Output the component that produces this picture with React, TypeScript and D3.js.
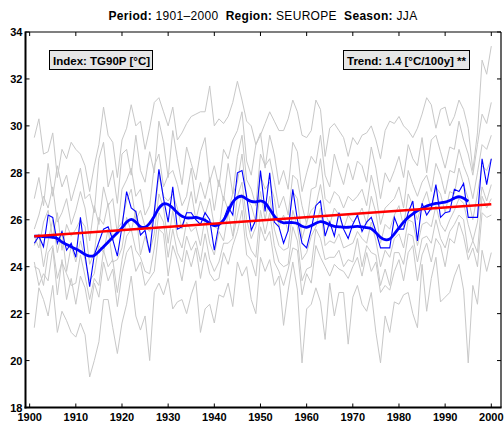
import React from 'react';
import * as d3 from 'd3';

// ---------- data ----------
const years: number[] = Array.from({ length: 100 }, (_, i) => 1901 + i);
const smoothYears: number[] = Array.from({ length: 95 }, (_, i) => 1901 + i);

const regionMean = [
  25.0, 25.3, 24.85, 26.2, 26.1, 25.0, 25.5, 24.7, 25.0, 24.4,
  26.1, 24.5, 23.15, 24.5, 25.05, 25.6, 25.7, 25.15, 24.45, 25.7,
  27.2, 26.5, 26.35, 25.35, 25.55, 24.6, 26.35, 28.15, 26.9, 25.9,
  27.4, 25.6, 25.7, 26.3, 26.3, 26.0, 25.8, 26.3, 26.0, 24.7,
  25.8, 26.0, 26.55, 26.2, 28.0, 28.1, 27.0, 25.55, 26.0, 28.1,
  26.35, 28.0, 25.9, 25.7, 25.0, 25.55, 27.3, 26.0, 25.0, 24.8,
  25.6, 26.6, 26.8, 25.3, 25.9, 25.3, 26.3, 25.6, 25.2, 25.8,
  26.2, 25.5, 25.9, 26.1, 25.5, 24.8, 24.8, 24.8, 26.1, 25.6,
  25.6, 26.3, 26.8, 25.1, 26.7, 26.2, 26.5, 27.5, 26.1, 26.3,
  26.35, 27.3, 27.2, 27.55, 26.1, 26.1, 26.1, 28.6, 27.5, 28.6,
];

const smoothMean = [
  25.30, 25.30, 25.28, 25.27, 25.25, 25.20, 25.05, 24.95, 24.85, 24.75,
  24.65, 24.52, 24.45, 24.48, 24.65, 24.85, 25.05, 25.25, 25.45, 25.65,
  25.90, 26.02, 25.90, 25.70, 25.68, 25.85, 26.15, 26.50, 26.68, 26.65,
  26.50, 26.30, 26.15, 26.08, 26.08, 26.10, 26.05, 25.98, 25.85, 25.75,
  25.80, 25.98, 26.35, 26.75, 26.95, 27.00, 26.88, 26.78, 26.76, 26.80,
  26.72, 26.45, 26.15, 25.95, 25.87, 25.88, 25.88, 25.84, 25.72, 25.68,
  25.75, 25.85, 25.92, 25.88, 25.78, 25.72, 25.70, 25.68, 25.68, 25.70,
  25.72, 25.70, 25.66, 25.62, 25.45, 25.25, 25.15, 25.18, 25.40, 25.65,
  25.90, 26.10, 26.25, 26.38, 26.48, 26.58, 26.65, 26.70, 26.72, 26.75,
  26.82, 26.92, 26.98, 26.92, 26.78,
];

const trendYears = [1901, 2000];
const trendValues = [25.3, 26.66];

const station1 = [
  29.5, 30.3, 28.8, 28.9, 29.7, 27.8, 29.0, 28.6, 29.3, 29.0,
  28.8, 28.3, 27.2, 28.3, 29.2, 30.8, 29.6, 29.3, 27.8, 29.4,
  29.9, 30.9, 30.0, 30.2, 29.0, 29.9, 31.0, 31.2, 30.6, 30.0,
  30.8, 29.4, 29.7, 30.1, 30.4, 30.5, 30.6, 30.6, 31.7, 30.0,
  30.3, 30.1, 30.4, 31.0, 31.9, 31.1, 30.2, 30.0, 29.2, 29.6,
  30.1, 30.6, 30.2, 29.8, 29.8, 30.3, 31.1, 30.6, 29.6, 29.5,
  29.8, 31.1, 30.7, 28.7, 29.9, 30.1, 29.8, 29.5, 28.7, 29.5,
  29.2, 29.6, 29.7, 30.0, 29.4, 28.6, 29.8, 30.2, 30.1, 30.4,
  30.0, 29.8, 29.5, 29.9, 30.5, 31.2, 30.9, 29.9, 30.7, 30.8,
  30.0, 30.4, 31.1, 30.7, 29.9, 28.1, 29.7, 32.8, 32.2, 33.4,
];
const station2 = [
  26.9, 27.8, 26.6, 28.4, 27.0, 28.3, 27.4, 27.9, 26.8, 27.5,
  28.2, 26.9, 27.1, 26.3, 28.6, 29.3, 27.4, 28.1, 26.7, 28.8,
  29.0, 27.9, 29.6, 28.1, 27.6, 28.9, 28.0, 30.2, 29.3, 27.8,
  29.8, 28.6, 27.5, 29.1, 28.4, 27.7, 28.9, 29.5, 27.6, 28.3,
  27.4, 29.0, 28.6, 29.4, 29.8, 30.6, 28.5, 27.9, 29.2, 29.7,
  28.2, 29.6, 28.8, 27.5, 28.1, 27.3, 29.3, 28.9, 27.2, 28.0,
  28.7, 28.4, 29.6, 27.9, 27.4, 28.8, 28.1, 27.5, 28.4, 27.7,
  28.5, 28.3, 27.6, 29.1, 28.2, 26.9, 28.0, 27.6, 28.1, 28.7,
  27.8, 29.2, 28.6, 28.3, 29.5, 28.0, 29.4, 29.6, 28.9, 28.2,
  29.1, 29.0, 30.2, 29.4, 28.8, 27.9, 29.2, 30.5, 30.1, 31.0,
];
const station3 = [
  25.6, 26.2, 27.0, 26.5, 27.4, 25.9, 26.3, 26.9, 25.8, 26.4,
  27.2, 26.5, 25.1, 26.6, 25.8, 27.4, 26.6, 26.9, 25.4, 27.3,
  27.7, 28.2, 27.0, 27.3, 26.2, 26.6, 28.3, 28.8, 27.4, 27.9,
  28.1, 27.5, 26.6, 27.0, 28.2, 26.7, 27.6, 26.9, 27.8, 26.4,
  27.7, 26.8, 28.4, 27.1, 28.7, 29.6, 27.7, 27.3, 26.6, 28.8,
  28.3, 28.6, 27.6, 26.5, 27.0, 26.2, 27.9, 27.7, 26.6, 25.8,
  27.3, 27.4, 28.6, 26.9, 26.7, 27.2, 27.0, 26.5, 27.0, 26.8,
  27.0, 27.3, 26.6, 27.9, 27.1, 25.8, 26.5, 26.7, 26.9, 27.4,
  26.5, 28.1, 27.5, 27.0, 27.6, 27.9, 27.2, 28.4, 27.9, 27.1,
  28.1, 28.0, 29.0, 28.3, 27.8, 26.9, 28.0, 29.2, 29.0, 29.6,
];
const station4 = [
  25.3, 24.8, 25.9, 26.4, 25.2, 26.3, 24.7, 25.8, 25.3, 25.6,
  26.0, 25.7, 24.1, 24.6, 26.1, 25.8, 26.7, 25.1, 25.6, 25.9,
  26.8, 27.3, 26.0, 26.4, 25.7, 25.5, 26.2, 27.9, 27.0, 26.8,
  27.1, 26.5, 25.6, 26.3, 27.2, 26.0, 26.8, 26.2, 26.9, 25.7,
  25.6, 27.0, 26.4, 27.1, 27.6, 28.8, 26.9, 26.6, 25.9, 27.9,
  27.3, 27.6, 26.9, 25.7, 26.2, 25.5, 27.2, 26.9, 25.2, 25.9,
  26.4, 26.6, 27.5, 26.3, 25.8, 26.5, 26.2, 25.6, 26.2, 25.9,
  26.1, 26.5, 25.8, 27.0, 26.3, 25.0, 25.8, 25.6, 26.2, 26.6,
  25.7, 27.1, 26.6, 26.0, 26.7, 27.2, 26.4, 27.4, 27.1, 26.3,
  27.2, 27.1, 28.2, 27.5, 26.9, 26.0, 27.1, 28.3, 28.1, 28.6,
];
const station5 = [
  24.9, 25.4, 24.0, 25.1, 26.0, 24.6, 25.5, 23.8, 24.9, 24.2,
  25.1, 24.3, 23.4, 23.7, 24.9, 24.6, 25.6, 24.2, 24.3, 24.8,
  26.1, 25.5, 26.4, 24.5, 25.3, 24.6, 25.4, 27.1, 26.5, 25.0,
  26.4, 25.3, 24.8, 25.9, 25.5, 25.7, 24.9, 26.1, 25.0, 24.5,
  25.5, 25.1, 26.3, 25.3, 27.0, 27.6, 26.0, 25.2, 25.7, 27.2,
  26.0, 27.0, 25.6, 24.9, 24.7, 24.8, 26.4, 25.7, 24.3, 24.6,
  25.3, 25.7, 26.5, 24.9, 25.1, 25.0, 25.4, 24.8, 24.9, 25.0,
  25.5, 25.2, 25.0, 25.9, 25.1, 24.0, 24.7, 24.4, 25.2, 25.4,
  24.8, 26.0, 25.9, 24.9, 25.8, 25.9, 25.7, 26.6, 25.8, 25.5,
  26.0, 26.4, 26.9, 26.7, 25.8, 25.1, 25.9, 27.4, 26.8, 27.5,
];
const station6 = [
  24.0, 23.9, 23.2, 24.6, 24.9, 23.5, 24.2, 23.7, 23.2, 23.3,
  24.5, 23.6, 22.6, 23.5, 23.2, 24.7, 24.0, 24.3, 22.9, 24.3,
  25.3, 25.6, 24.7, 24.4, 23.8, 23.7, 24.8, 26.3, 25.9, 24.4,
  25.6, 24.6, 24.2, 25.3, 24.7, 25.1, 24.2, 25.4, 24.3, 23.8,
  24.2, 25.0, 25.0, 25.2, 26.2, 27.1, 25.3, 24.7, 24.4, 26.4,
  25.4, 26.3, 24.9, 24.2, 24.0, 24.1, 25.7, 25.1, 23.4, 23.9,
  24.0, 25.6, 25.2, 24.3, 24.4, 24.4, 24.7, 24.0, 24.3, 24.2,
  25.2, 24.0, 24.9, 24.6, 24.5, 23.2, 23.9, 23.2, 24.6, 24.6,
  24.1, 25.4, 25.3, 24.2, 25.2, 25.3, 25.0, 26.0, 25.2, 24.8,
  25.5, 25.8, 26.2, 26.0, 24.6, 25.1, 24.6, 27.0, 26.5, 26.9,
];
const station7 = [
  24.2, 23.2, 23.7, 23.4, 24.8, 22.8, 24.3, 22.6, 23.5, 22.4,
  23.6, 23.1, 22.0, 23.3, 22.7, 24.2, 23.4, 23.9, 22.3, 23.7,
  24.6, 24.9, 23.8, 24.2, 23.2, 23.5, 23.8, 25.6, 25.4, 23.6,
  24.9, 24.3, 23.4, 24.7, 24.0, 24.8, 23.5, 24.6, 23.7, 23.4,
  23.5, 24.6, 24.1, 24.9, 25.5, 26.4, 24.5, 24.3, 23.6, 25.7,
  25.1, 25.5, 24.2, 23.8, 23.2, 23.9, 24.8, 24.7, 22.8, 23.7,
  23.3, 24.9, 24.4, 24.0, 23.6, 24.1, 23.9, 23.8, 23.5, 24.0,
  24.4, 23.6, 24.6, 23.8, 24.2, 22.9, 23.2, 23.0, 23.8, 24.3,
  23.4, 24.6, 24.9, 23.4, 24.5, 25.0, 24.2, 25.2, 24.9, 24.0,
  25.2, 25.0, 25.9, 25.3, 24.3, 24.8, 24.0, 26.3, 26.1, 26.2,
];
const station8 = [
  21.4, 23.1, 22.6, 21.9, 23.2, 21.2, 22.1, 21.7, 21.2, 21.0,
  21.6, 21.1, 19.3, 20.0, 20.8, 22.6, 22.6, 21.4, 20.3, 21.6,
  22.4, 23.6, 21.9, 21.3, 21.9, 20.0, 22.9, 23.3, 22.8, 23.5,
  22.2, 22.5, 22.6, 22.0, 22.8, 23.4, 21.2, 22.2, 22.4, 21.6,
  22.8, 22.7, 23.3, 22.3, 24.2, 23.6, 24.0, 22.6, 22.0, 24.4,
  23.8, 24.3, 23.2, 23.6, 21.5, 23.0, 24.2, 23.0, 19.9, 22.2,
  22.4, 23.1, 22.5, 20.9, 23.3, 21.9, 22.9, 22.9, 20.7, 22.7,
  23.2, 22.4, 22.1, 22.9, 21.2, 19.9, 21.9, 21.2, 22.5, 22.4,
  22.8, 22.9, 22.0, 21.4, 24.1, 22.1, 23.5, 24.4, 22.5, 22.7,
  22.9, 23.6, 24.1, 23.0, 19.9, 23.2, 22.4, 24.7, 23.8, 24.6,
];
const stations = [station1, station2, station3, station4, station5, station6, station7, station8];

const xTicks = [1900, 1910, 1920, 1930, 1940, 1950, 1960, 1970, 1980, 1990, 2000];
const yTicks = [18, 20, 22, 24, 26, 28, 30, 32, 34];

const indexLabel = 'Index: TG90P [°C]';
const trendLabel = 'Trend: 1.4 [°C/100y] **';

// ---------- layout ----------
const W = 504;
const H = 423;
const left = 25.5;
const right = 501;
const top = 32;
const bottom = 407.5;
const FONT = '"Liberation Sans", Arial, Helvetica, sans-serif';

export default function App() {
  const x = d3.scaleLinear().domain([1899.1, 2002.1]).range([left, right]);
  const y = d3.scaleLinear().domain([18, 34]).range([bottom, top]);

  const line = d3
    .line<[number, number]>()
    .x((d) => x(d[0]))
    .y((d) => y(d[1]));
  const smoothLine = d3
    .line<[number, number]>()
    .x((d) => x(d[0]))
    .y((d) => y(d[1]))
    .curve(d3.curveCatmullRom.alpha(0.5));

  const pairs = (xs: number[], vs: number[]) => xs.map((v, i) => [v, vs[i]] as [number, number]);

  const tickLen = 4;

  return (
    <svg
      width={W}
      height={H}
      style={{ position: 'absolute', left: 0, top: 0, background: '#fff' }}
      fontFamily={FONT}
    >
      <rect x={0} y={0} width={W} height={H} fill="#fff" />
      {/* title */}
      <text x={263} y={19.5} fontSize={12} letterSpacing={0.3} textAnchor="middle" fill="#000" style={{ whiteSpace: 'pre' }}>
        <tspan fontWeight="bold">Period:</tspan>
        <tspan>{' 1901\u20132000  '}</tspan>
        <tspan fontWeight="bold">Region:</tspan>
        <tspan>{' SEUROPE  '}</tspan>
        <tspan fontWeight="bold">Season:</tspan>
        <tspan>{' JJA'}</tspan>
      </text>

      <defs>
        <clipPath id="plotclip">
          <rect x={left} y={top} width={right - left} height={bottom - top} />
        </clipPath>
      </defs>

      <g clipPath="url(#plotclip)">
        {stations.map((s, i) => (
          <path key={i} d={line(pairs(years, s)) || ''} fill="none" stroke="#c8c8c8" strokeWidth={1} />
        ))}
        <path d={line(pairs(years, regionMean)) || ''} fill="none" stroke="#0000ff" strokeWidth={1.1} />
        <path d={smoothLine(pairs(smoothYears, smoothMean)) || ''} fill="none" stroke="#0000ff" strokeWidth={2.8} strokeLinejoin="round" />
        <path d={line(pairs(trendYears, trendValues)) || ''} fill="none" stroke="#ff0000" strokeWidth={2.6} />
      </g>

      {/* label boxes */}
      <g>
        <rect x={49.5} y={50.5} width={103} height={19} fill="#e6e6e6" stroke="#000" strokeWidth={1} />
        <text x={53} y={64.5} fontSize={11.5} fontWeight="bold" fill="#000">{indexLabel}</text>
        <rect x={343.5} y={50.5} width={126} height={19} fill="#e6e6e6" stroke="#000" strokeWidth={1} />
        <text x={347} y={64.5} fontSize={11.5} fontWeight="bold" fill="#000">{trendLabel}</text>
      </g>

      {/* frame */}
      <line x1={left} x2={right} y1={top} y2={top} stroke="#000" strokeWidth={1.2} />
      <line x1={right} x2={right} y1={top} y2={bottom} stroke="#000" strokeWidth={1.2} />
      <line x1={left} x2={left} y1={top - 0.6} y2={bottom + 1} stroke="#000" strokeWidth={2} />
      <line x1={left - 1} x2={right + 0.6} y1={bottom} y2={bottom} stroke="#000" strokeWidth={2} />

      {/* x ticks */}
      {xTicks.map((t) => (
        <g key={t}>
          <line x1={x(t)} x2={x(t)} y1={bottom} y2={bottom - tickLen} stroke="#000" strokeWidth={1} />
          <line x1={x(t)} x2={x(t)} y1={top} y2={top + tickLen} stroke="#000" strokeWidth={1} />
          <text x={x(t)} y={421} fontSize={11} fontWeight="bold" textAnchor="middle" fill="#000">
            {t}
          </text>
        </g>
      ))}

      {/* y ticks */}
      {yTicks.map((t) => (
        <g key={t}>
          <line x1={left} x2={left + tickLen} y1={y(t)} y2={y(t)} stroke="#000" strokeWidth={1} />
          <line x1={right} x2={right - tickLen} y1={y(t)} y2={y(t)} stroke="#000" strokeWidth={1} />
          <text x={22.5} y={y(t) + 4} fontSize={11} fontWeight="bold" textAnchor="end" fill="#000">
            {t}
          </text>
        </g>
      ))}
    </svg>
  );
}
